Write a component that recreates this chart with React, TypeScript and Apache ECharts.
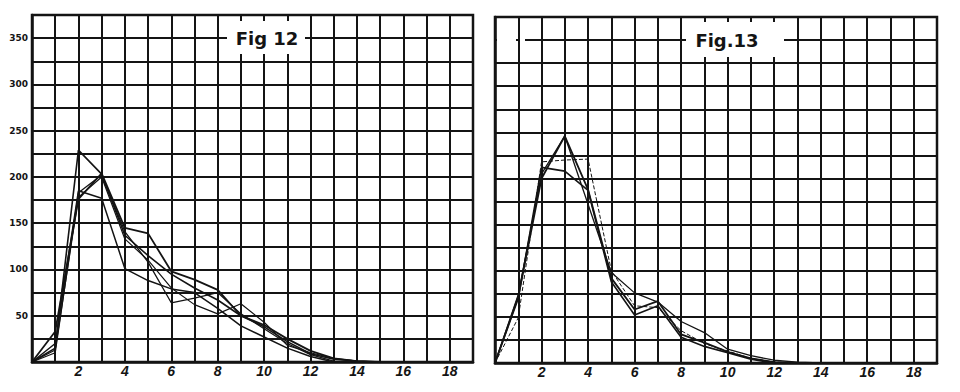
import React, { useEffect, useRef } from "react";
import * as echarts from "echarts";

// x positions (class index) shared by all curves
const xValues = [0, 1, 2, 3, 4, 5, 6, 7, 8, 9, 10, 11, 12, 13, 14, 15];

// Fig 12 curves
const fig12A = [0, 15, 229, 203, 137, 115, 95, 80, 67, 50, 38, 22, 9, 3, 1, 0];
const fig12B = [0, 33, 176, 204, 145, 139, 98, 89, 78, 50, 40, 25, 12, 4, 1, 0];
const fig12C = [0, 20, 185, 177, 101, 88, 79, 75, 58, 39, 27, 15, 6, 0, 0, 0];
const fig12D = [0, 10, 183, 202, 141, 108, 64, 69, 75, 52, 36, 20, 8, 1, 0, 0];
const fig12E = [0, 13, 178, 200, 133, 110, 80, 62, 52, 63, 43, 18, 10, 4, 1, 0];

// Fig 13 curves
const fig13A = [0, 74, 205, 246, 172, 98, 76, 66, 45, 33, 15, 8, 3, 1, 0, 0];
const fig13B = [0, 72, 200, 246, 188, 92, 58, 67, 31, 22, 12, 5, 1, 0, 0, 0];
const fig13Dashed = [0, 49, 218, 220, 221, 100, 62, 60, 35, 21, 13, 5, 1, 0, 0, 0];
const fig13D = [0, 70, 212, 208, 187, 88, 52, 62, 28, 18, 11, 4, 0, 0, 0, 0];

const xTickLabels = ["2", "4", "6", "8", "10", "12", "14", "16", "18"];
const yTickLabels = ["50", "100", "150", "200", "250", "300", "350"];
const titles = ["Fig 12", "Fig.13"];

const INK = "#141414";

function pairs(ys: number[]) {
  return xValues.map((x, i) => [x, ys[i]]);
}

export default function App() {
  const ref = useRef<HTMLDivElement>(null);
  useEffect(() => {
    if (!ref.current) return;
    const chart = echarts.init(ref.current, null, { renderer: "svg" });

    const makeX = (gridIndex: number) => ({
      type: "value",
      gridIndex,
      min: 0,
      max: 19,
      interval: 1,
      axisLine: { show: true, lineStyle: { color: INK, width: 2.5 } },
      axisTick: { show: false },
      splitLine: { show: true, lineStyle: { color: INK, width: 2 } },
      axisLabel: {
        show: true,
        margin: 2,
        color: INK,
        fontSize: 14,
        fontStyle: "italic",
        fontWeight: "bold",
        fontFamily: "Liberation Sans, sans-serif",
        formatter: (v: number) =>
          xTickLabels.indexOf(String(v)) >= 0 ? String(v) : "",
      },
    });
    const makeY = (gridIndex: number, labels: boolean) => ({
      type: "value",
      gridIndex,
      min: 0,
      max: 375,
      interval: 25,
      axisLine: { show: true, lineStyle: { color: INK, width: 2.5 } },
      axisTick: { show: false },
      splitLine: { show: true, lineStyle: { color: INK, width: 2 } },
      axisLabel: {
        show: labels,
        margin: 4,
        color: INK,
        fontSize: 9,
        fontWeight: "bold",
        fontFamily: "DejaVu Sans, sans-serif",
        formatter: (v: number) =>
          yTickLabels.indexOf(String(v)) >= 0 ? String(v) : "",
      },
    });

    const line = (ys: number[], idx: number, width = 1.6, type = "solid") => ({
      type: "line",
      xAxisIndex: idx,
      yAxisIndex: idx,
      data: pairs(ys),
      symbol: "none",
      z: 5,
      lineStyle: { color: INK, width, type },
    });

    const whiteRect = (x: number, y: number, w: number, h: number) => ({
      type: "rect",
      z: 100,
      shape: { x, y, width: w, height: h },
      style: { fill: "#ffffff", stroke: "none" },
    });
    const titleText = (cx: number, cy: number, text: string) => ({
      type: "text",
      z: 101,
      x: cx,
      y: cy,
      style: {
        text,
        fill: INK,
        fontSize: 18,
        fontWeight: "bold",
        fontFamily: "DejaVu Sans, sans-serif",
        textAlign: "center",
        textVerticalAlign: "middle",
      },
    });

    chart.setOption({
      animation: false,
      backgroundColor: "#fff",
      grid: [
        {
          left: 32,
          top: 15,
          width: 441,
          height: 347,
          show: true,
          borderColor: INK,
          borderWidth: 2.5,
        },
        {
          left: 495,
          top: 17,
          width: 442,
          height: 346,
          show: true,
          borderColor: INK,
          borderWidth: 2.5,
        },
      ],
      xAxis: [makeX(0), makeX(1)],
      yAxis: [makeY(0, true), makeY(1, false)],
      series: [
        line(fig12A, 0, 1.6),
        line(fig12B, 0, 1.8),
        line(fig12C, 0, 1.5),
        line(fig12D, 0, 1.3),
        line(fig12E, 0, 1.2),
        line(fig13A, 1, 1.3),
        line(fig13B, 1, 1.8),
        line(fig13Dashed, 1, 1, "dashed"),
        line(fig13D, 1, 1.6),
      ],
      graphic: [
        whiteRect(227, 21, 78, 33),
        titleText(267, 38, titles[0]),
        whiteRect(686, 22, 98, 35),
        titleText(727, 40, titles[1]),
        whiteRect(497, 38, 19, 5),
        whiteRect(520, 38, 5, 5),
      ],
    });
    return () => chart.dispose();
  }, []);
  return (
    <div
      ref={ref}
      style={{ position: "fixed", left: 0, top: 0, width: 960, height: 392 }}
    />
  );
}
